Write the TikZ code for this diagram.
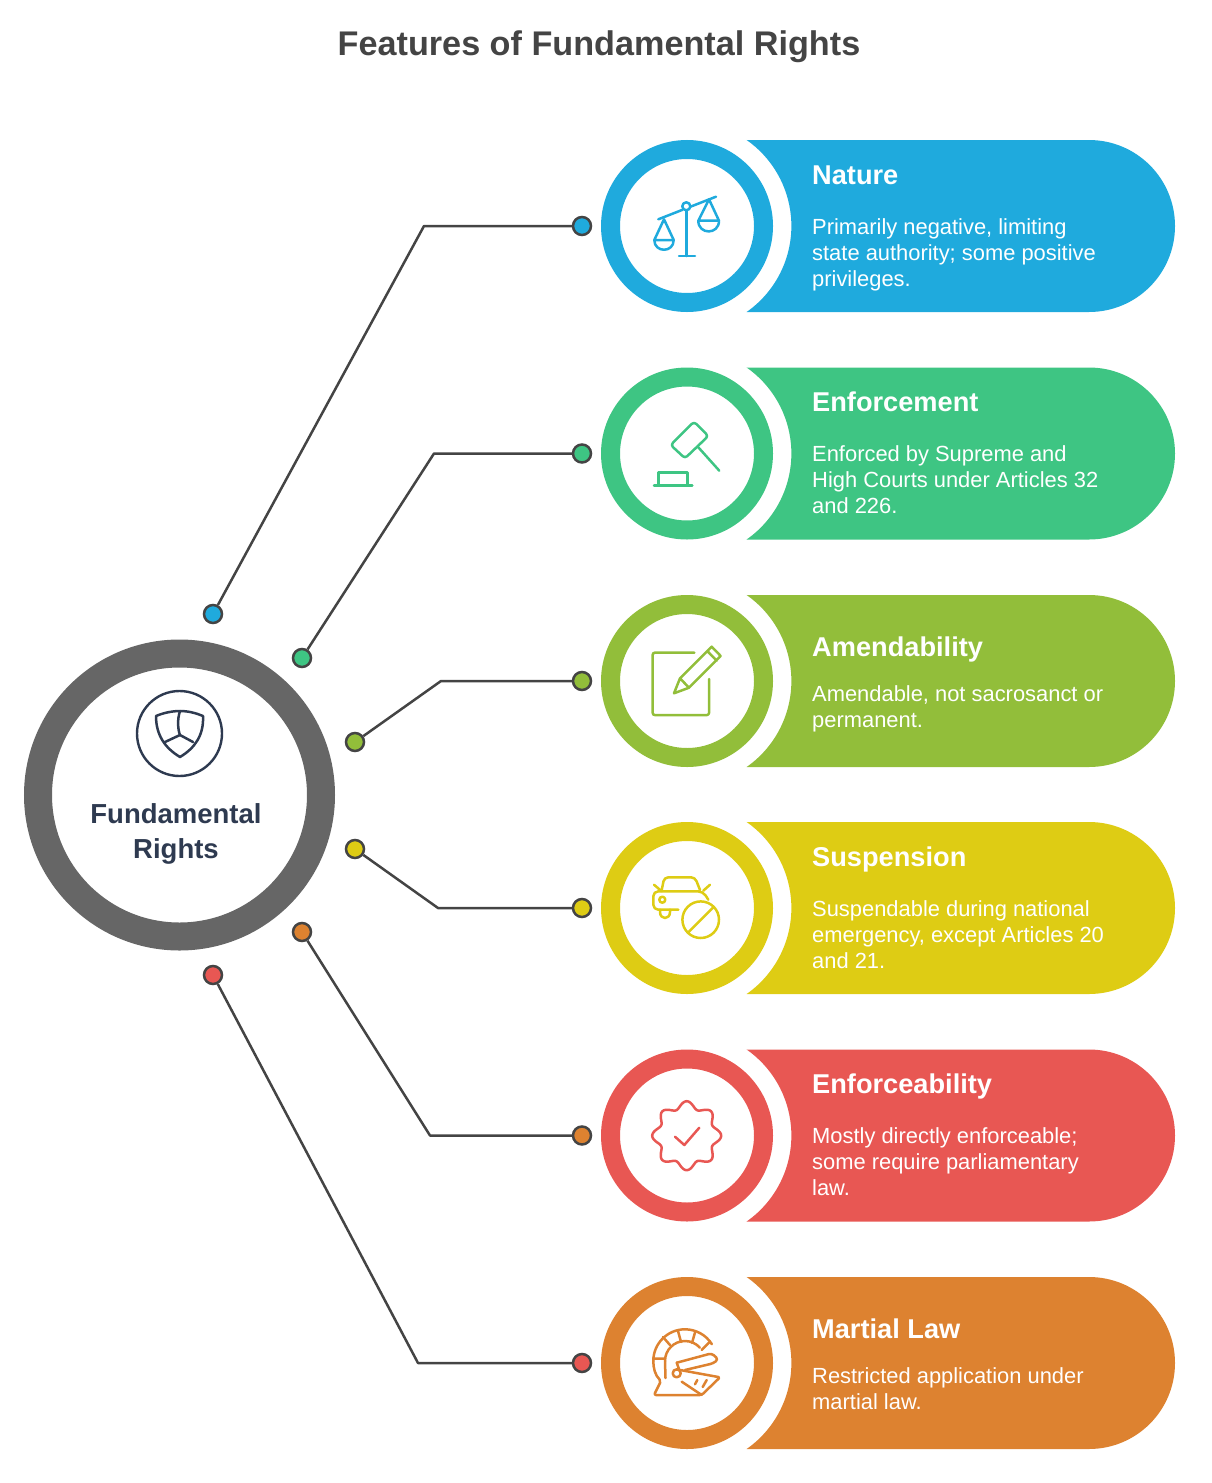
\documentclass[tikz,border=0pt]{standalone}
\usepackage{fontspec}
\setmainfont{Liberation Sans}
\usepackage{tikz}
\usetikzlibrary{positioning}
\definecolor{myblue}{HTML}{1FAADD}
\definecolor{mygreen}{HTML}{3EC583}
\definecolor{myolive}{HTML}{92BE3A}
\definecolor{myyellow}{HTML}{DECC14}
\definecolor{myred}{HTML}{E85753}
\definecolor{myorange}{HTML}{DD8230}
\definecolor{myslate}{HTML}{2E3A50}
\definecolor{mydark}{HTML}{444444}
\tikzset{
	ringnode/.style={circle,line width=19pt,minimum size=153pt,inner sep=0pt,outer sep=0pt},
	dotnode/.style={circle,draw=mydark,line width=2.5pt,minimum size=18pt,inner sep=0pt},
	linkline/.style={draw=mydark,line width=2.5pt,line join=round},
	iconline/.style={line width=2.5pt,line cap=round,line join=round},
	headtext/.style={anchor=base west,inner sep=0pt,text=white,font=\bfseries\fontsize{27.2}{32}\selectfont},
	bodytext/.style={anchor=west,inner sep=0pt,text=white,align=left,font=\fontsize{21.9}{26}\selectfont},
}
\newcommand{\bandpill}[2]{\fill[#2] (746.6,#1-86) -- (1089,#1-86) arc[start angle=-90,end angle=90,radius=86] -- (746.6,#1+86) arc[start angle=55,end angle=-55,radius=105] -- cycle;}

\begin{document}
\begin{tikzpicture}[x=1pt,y=-1pt]
	\useasboundingbox (0,0) rectangle (1212,1483);
	\node [anchor=base,inner sep=0pt,text=mydark,font=\bfseries\fontsize{34.2}{40}\selectfont] (title) at (599,55) {Features of Fundamental Rights};
	% centre
	\node [ringnode,draw=black!60,line width=28pt,minimum size=283pt] (centre) at (179.5,795) {};
	\node [circle,draw=myslate,line width=2.4pt,minimum size=85pt,inner sep=0pt] (shieldring) at (179.5,733.5) {};
	\node [inner sep=0pt,align=center,text=myslate,font=\bfseries\fontsize{27.5}{35}\selectfont] (centrelabel) at (176,833.5) {Fundamental\\Rights};
	\draw [iconline,myslate] (180,711) .. controls (172,711) and (163,713) .. (156,716) .. controls (156,735) and (165,748) .. (180,757) .. controls (195,748) and (204,735) .. (203,716) .. controls (196,713) and (188,711) .. (180,711);
	\draw [iconline,myslate] (180,711) .. controls (177,720) and (178,730) .. (180,735) -- (165,742);
	\draw [iconline,myslate] (180,735) -- (193,742);
	% bands
	\bandpill{226}{myblue}
	\bandpill{453.5}{mygreen}
	\bandpill{681}{myolive}
	\bandpill{908}{myyellow}
	\bandpill{1135.5}{myred}
	\bandpill{1363}{myorange}
	\node [ringnode,draw=myblue] (nature) at (687,226) {};
	\node [ringnode,draw=mygreen] (enforcement) at (687,453.5) {};
	\node [ringnode,draw=myolive] (amendability) at (687,681) {};
	\node [ringnode,draw=myyellow] (suspension) at (687,908) {};
	\node [ringnode,draw=myred] (enforceability) at (687,1135.5) {};
	\node [ringnode,draw=myorange] (martial) at (687,1363) {};
	\node [headtext] (naturehead) at (812,184.5) {Nature};
	\node [bodytext] (naturebody) at (812,255) {Primarily negative, limiting\\state authority; some positive\\privileges.};
	\node [headtext] (enforcementhead) at (812,411.5) {Enforcement};
	\node [bodytext] (enforcementbody) at (812,480) {Enforced by Supreme and\\High Courts under Articles 32\\and 226.};
	\node [headtext] (amendabilityhead) at (812,656.5) {Amendability};
	\node [bodytext] (amendabilitybody) at (812,709) {Amendable, not sacrosanct or\\permanent.};
	\node [headtext] (suspensionhead) at (812,866.5) {Suspension};
	\node [bodytext] (suspensionbody) at (812,934.5) {Suspendable during national\\emergency, except Articles 20\\and 21.};
	\node [headtext] (enforceabilityhead) at (812,1093.5) {Enforceability};
	\node [bodytext] (enforceabilitybody) at (812,1162) {Mostly directly enforceable;\\some require parliamentary\\law.};
	\node [headtext] (martialhead) at (812,1338.5) {Martial Law};
	\node [bodytext] (martialbody) at (812,1389) {Restricted application under\\martial law.};
	% connectors
	\node [dotnode,fill=myblue] (leftnature) at (213,614) {};
	\node [dotnode,fill=myblue] (rightnature) at (582,226) {};
	\coordinate (bendnature) at (424,226);
	\draw [linkline] (leftnature) -- (bendnature) -- (rightnature);
	\node [dotnode,fill=mygreen] (leftenforcement) at (302,658) {};
	\node [dotnode,fill=mygreen] (rightenforcement) at (582,453.5) {};
	\coordinate (bendenforcement) at (434,453.5);
	\draw [linkline] (leftenforcement) -- (bendenforcement) -- (rightenforcement);
	\node [dotnode,fill=myolive] (leftamendability) at (355,742) {};
	\node [dotnode,fill=myolive] (rightamendability) at (582,681) {};
	\coordinate (bendamendability) at (441,681);
	\draw [linkline] (leftamendability) -- (bendamendability) -- (rightamendability);
	\node [dotnode,fill=myyellow] (leftsuspension) at (355,849) {};
	\node [dotnode,fill=myyellow] (rightsuspension) at (582,908) {};
	\coordinate (bendsuspension) at (438,908);
	\draw [linkline] (leftsuspension) -- (bendsuspension) -- (rightsuspension);
	\node [dotnode,fill=myorange] (leftenforceability) at (302,932) {};
	\node [dotnode,fill=myorange] (rightenforceability) at (582,1135.5) {};
	\coordinate (bendenforceability) at (430,1135.5);
	\draw [linkline] (leftenforceability) -- (bendenforceability) -- (rightenforceability);
	\node [dotnode,fill=myred] (leftmartial) at (213,975) {};
	\node [dotnode,fill=myred] (rightmartial) at (582,1363) {};
	\coordinate (bendmartial) at (418,1363);
	\draw [linkline] (leftmartial) -- (bendmartial) -- (rightmartial);
	% scales
	\draw [iconline,myblue] (658.3,219.3) -- (682.5,209.8) (690.2,206.8) -- (716,196.7);
	\draw [iconline,myblue] (686.3,206.3) circle (4);
	\draw [iconline,myblue] (686.3,210.3) -- (686.3,256) (679,256) -- (695,256);
	\draw [iconline,myblue] (654.3,240) -- (664,219.3) -- (673.7,240) -- cycle (654.3,240) .. controls (654.3,253) and (673.7,253) .. (673.7,240);
	\draw [iconline,myblue] (698.3,220.7) -- (709,199.3) -- (719,220.7) -- cycle (698.3,220.7) .. controls (698.3,235) and (719,235) .. (719,220.7);
	% gavel
	\draw [iconline,mygreen,rounded corners=3pt] (670.7,445) -- (694,421.7) -- (708.3,436) -- (685,458.3) -- cycle;
	\draw [iconline,mygreen] (698.3,447.3) -- (719.3,470.7);
	\draw [iconline,mygreen] (654,485.3) -- (692.3,485.3) (658.3,485.3) -- (658.3,472.7) -- (687.7,472.7) -- (687.7,485.3);
	% note and pencil
	\draw [iconline,myolive,rounded corners=2pt] (694.3,652.7) -- (652.7,652.7) -- (652.7,715) -- (709,715) -- (709,679);
	\draw [iconline,myolive] (674,693.3) -- (680,678.3) -- (711.7,646.7) -- (720.7,656) -- (689,687.7) -- cycle (707.3,651) -- (716.7,660.7) (680,678.3) -- (689,687.7);
	% car
	\draw [iconline,myyellow,rounded corners=4pt] (661.7,890) -- (664.3,877.3) -- (695,877.3) -- (700,890);
	\draw [iconline,myyellow,rounded corners=5pt] (678.3,909.7) -- (653.3,909.7) -- (653.3,891.3) -- (703,891.3) -- (708.3,899.7);
	\draw [iconline,myyellow] (654,884.7) -- (661.7,891.3) (710,884.7) -- (703.3,890.7);
	\draw [iconline,myyellow] (660,909.7) -- (660,912) .. controls (660,920) and (670,920) .. (670,912) -- (670,909.7);
	\draw [iconline,myyellow] (662.3,899.7) circle (3) (700.7,919.7) circle (18.3) (688.5,932) -- (713,907.5);
	% badge
	\draw [iconline,myred,samples=121,domain=0:360] plot ({686.7+(31+3.5*cos(8*\x))*cos(\x+90)},{1135.7+(31+3.5*cos(8*\x))*sin(\x+90)}) -- cycle;
	\draw [iconline,myred] (675,1136.7) -- (684.3,1145) -- (699.3,1127.7);
	% helmet
	\draw [iconline,myorange] (653.3,1361) arc[start angle=180,end angle=328,radius=31.7];
	\draw [iconline,myorange] (665,1361) arc[start angle=180,end angle=318,radius=20];
	\draw [iconline,myorange,rounded corners=2pt] (653.3,1361) .. controls (653.3,1368) and (655,1375) .. (661,1381) -- (654,1395) -- (701.7,1395) -- (720,1377.3) -- (680,1370);
	\draw [iconline,myorange] (665,1361) -- (665.5,1378);
	\draw [iconline,myorange] (654,1358.5) -- (665,1358.5) (663,1337) -- (670,1345) (678,1331) -- (681,1342) (695,1332.5) -- (692,1343) (710,1341.5) -- (701.7,1350);
	\draw [iconline,myorange,rounded corners=3pt] (676.7,1362.7) -- (711.7,1353.3) -- (718.3,1359.3) -- (713.3,1363.3) -- (685,1370);
	\draw [iconline,myorange] (676.7,1373.3) circle (4) (681.7,1381.7) -- (701.7,1395) (679.5,1370.5) -- (676.7,1362.7);
	\draw [iconline,myorange] (695,1384.3) -- (697.3,1380) (702.7,1387) -- (706.7,1380);
\end{tikzpicture}
\end{document}
